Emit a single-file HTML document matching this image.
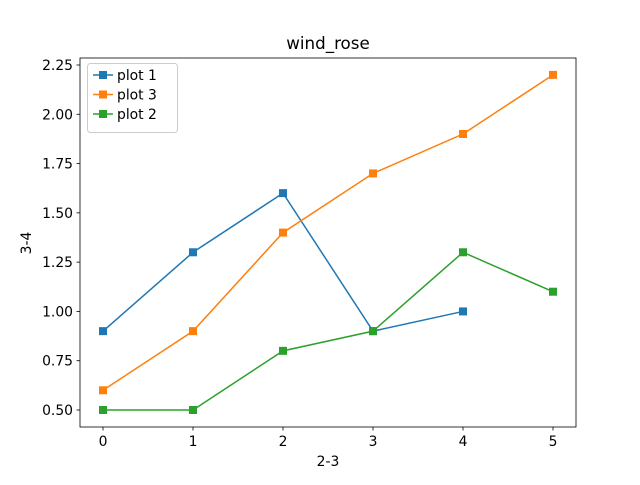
<!DOCTYPE html>
<html><head><meta charset="utf-8"><style>
body{margin:0;background:#fff}
svg text{font-family:"DejaVu Sans","Liberation Sans",sans-serif;fill:#000}
</style></head><body>
<svg id="c" width="640" height="480" xmlns="http://www.w3.org/2000/svg">
<rect x="0" y="0" width="640" height="480" fill="#fff"/>
<text x="328" y="49" font-size="16.7" text-anchor="middle">wind_rose</text>
<text x="328" y="466" font-size="13.9" text-anchor="middle">2-3</text>
<text x="31" y="243" font-size="13.9" text-anchor="middle" transform="rotate(-90 31 243)">3-4</text>
<g id="ticks"></g>
<g id="series"></g>
<rect x="80" y="58" width="496" height="369" fill="none" stroke="#000" stroke-width="0.8"/>
<g id="legend"></g>
</svg>
<script>
const xValues=[0,1,2,3,4,5];
const plot1=[0.9,1.3,1.6,0.9,1.0];
const plot3=[0.6,0.9,1.4,1.7,1.9,2.2];
const plot2=[0.5,0.5,0.8,0.9,1.3,1.1];
const yTicks=[0.5,0.75,1.0,1.25,1.5,1.75,2.0,2.25];
const yTickLabels=["0.50","0.75","1.00","1.25","1.50","1.75","2.00","2.25"];
const xTicks=[0,1,2,3,4,5];
const seriesNames=["plot 1","plot 3","plot 2"];
const seriesColors=["#1f77b4","#ff7f0e","#2ca02c"];
const NS="http://www.w3.org/2000/svg";
function xs(v){return 103+v*90;}
function ys(v){return 410-(v-0.5)*(345/1.75);}
function mk(t,a,p){const e=document.createElementNS(NS,t);for(const k in a)e.setAttribute(k,a[k]);p.appendChild(e);return e;}
const tg=document.getElementById('ticks');
xTicks.forEach(t=>{
 const l=mk('line',{x1:xs(t),x2:xs(t),y1:427,y2:430.5,stroke:'#000','stroke-width':0.8},tg);
 
 
 const tx=mk('text',{x:xs(t),y:446,'font-size':13.9,'text-anchor':'middle'},tg);tx.textContent=t;
 
 
});
yTicks.forEach((t,i)=>{
 const l=mk('line',{x1:76.5,x2:80,y1:ys(t),y2:ys(t),stroke:'#000','stroke-width':0.8},tg);
 
 
 const tx=mk('text',{x:73,y:ys(t)+5,'font-size':13.9,'text-anchor':'end'},tg);tx.textContent=yTickLabels[i];
 
 
});
const sg=document.getElementById('series');
[plot1,plot3,plot2].forEach((d,si)=>{
 const g=mk('g',{},sg);
 
 
 const pts=d.map((v,i)=>xs(xValues[i])+','+ys(v)).join(' ');
 mk('polyline',{points:pts,fill:'none',stroke:seriesColors[si],'stroke-width':1.5},g);
 d.forEach((v,i)=>{
  const r=mk('rect',{x:xs(xValues[i])-4,y:ys(v)-4,width:8,height:8,fill:seriesColors[si]},g);
  
  
 });
});
const lg=document.getElementById('legend');


mk('rect',{x:87.5,y:63.5,width:90,height:69,rx:3,fill:'#fff','fill-opacity':0.8,stroke:'#ccc','stroke-width':1},lg);
seriesNames.forEach((n,i)=>{
 const y=75+i*19.5;
 const g=mk('g',{},lg);
 
 
 mk('line',{x1:93,x2:113,y1:y,y2:y,stroke:seriesColors[i],'stroke-width':1.5},g);
 mk('rect',{x:99,y:y-4,width:8,height:8,fill:seriesColors[i]},g);
 const t=mk('text',{x:117,y:y+5,'font-size':13.9},g);t.textContent=n;
});
</script>
</body></html>
